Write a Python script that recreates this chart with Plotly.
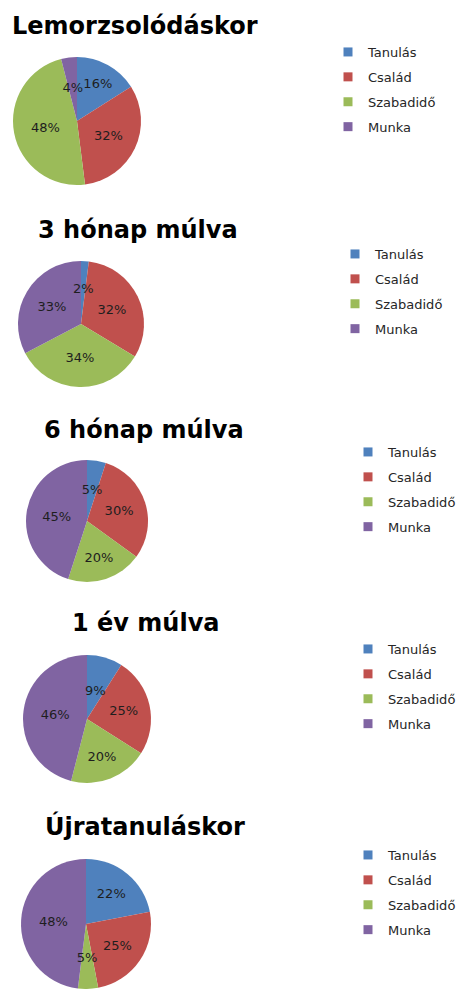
import plotly.graph_objects as go

W, H = 465, 989          # browser window
OFF = 8                  # page body margin
FW, FH = W - OFF, H - OFF

categories = ["Tanulás", "Család", "Szabadidő", "Munka"]
colors = ["#4F81BD", "#C0504D", "#9BBB59", "#8064A2"]

titles = ["Lemorzsolódáskor", "3 hónap múlva", "6 hónap múlva", "1 év múlva", "Újratanuláskor"]
v_lemorzsolodas = [16, 32, 48, 4]
v_3honap = [2, 32, 34, 33]
v_6honap = [5, 30, 20, 45]
v_1ev = [9, 25, 20, 46]
v_ujratanulas = [22, 25, 5, 48]
series = [v_lemorzsolodas, v_3honap, v_6honap, v_1ev, v_ujratanulas]

# layout (window pixels): pie centre/radius, title centre, legend text-left / first-item centre
pies = [(77, 121, 64), (81, 324, 63), (87, 521, 61), (87, 719, 64), (86, 924, 65)]
title_pos = [(135, 26), (138, 230), (144, 430), (146, 623), (145, 826)]
legend_pos = [(366, 52), (373, 254), (386, 452), (386, 649), (386, 855)]


def fx(px):
    return (px - OFF) / FW


def fy(py):
    return 1 - (py - OFF) / FH


def dom(cx, cy, r):
    return dict(x=[max(0, fx(cx - r)), min(1, fx(cx + r))],
                y=[max(0, fy(cy + r)), min(1, fy(cy - r))])


label_font = dict(family="DejaVu Sans", size=13, color="#1E1E1E")
SMALL = 10

fig = go.Figure()
for i, vals in enumerate(series):
    cx, cy, r = pies[i]
    fig.add_trace(go.Pie(
        labels=categories, values=vals, sort=False, direction="clockwise", rotation=0,
        marker=dict(colors=colors, line=dict(width=0)),
        texttemplate="%{percent:.0%}",
        textposition=["inside" if v >= SMALL else "none" for v in vals],
        insidetextorientation="horizontal", textfont=label_font,
        domain=dom(cx, cy, r), showlegend=False, hoverinfo="label+percent", name=titles[i],
    ))
    # transparent inner pie that carries the labels of the thin slices closer to the centre
    rs = 0.6 * r
    fig.add_trace(go.Pie(
        labels=categories, values=vals, sort=False, direction="clockwise", rotation=0,
        marker=dict(colors=["rgba(0,0,0,0)"] * 4, line=dict(width=0)),
        texttemplate="%{percent:.0%}",
        textposition=["inside" if v < SMALL else "none" for v in vals],
        insidetextorientation="horizontal", textfont=label_font,
        domain=dom(cx, cy, rs), showlegend=False, hoverinfo="skip",
    ))
    lg = "legend" if i == 0 else f"legend{i+1}"
    for j, c in enumerate(categories):
        fig.add_trace(go.Scatter(
            x=[None], y=[None], mode="markers", name=c,
            marker=dict(symbol="square", size=9, color=colors[j]),
            legend=lg, legendgroup=f"g{i}_{j}", showlegend=True,
        ))
    fig.add_annotation(
        text=titles[i], x=fx(title_pos[i][0]), y=fy(title_pos[i][1]),
        xref="paper", yref="paper", xanchor="center", yanchor="middle", showarrow=False,
        font=dict(family="DejaVu Sans", size=24, color="#000000", weight=700),
    )

legend_common = dict(
    xanchor="left", yanchor="top", bgcolor="rgba(0,0,0,0)", borderwidth=0,
    font=dict(family="DejaVu Sans", size=13, color="#262626"),
    tracegroupgap=5, traceorder="grouped", itemclick=False, itemdoubleclick=False,
)
legends = {}
for i in range(5):
    key = "legend" if i == 0 else f"legend{i+1}"
    tx, ty = legend_pos[i]
    legends[key] = dict(legend_common, x=fx(tx - 38), y=fy(ty - 15))

fig.update_layout(
    width=FW, height=FH, margin=dict(l=0, r=0, t=0, b=0),
    paper_bgcolor="white", plot_bgcolor="white",
    xaxis=dict(visible=False), yaxis=dict(visible=False),
    uniformtext=dict(minsize=13, mode="show"),
    **legends,
)

fig.write_html("out.html")
